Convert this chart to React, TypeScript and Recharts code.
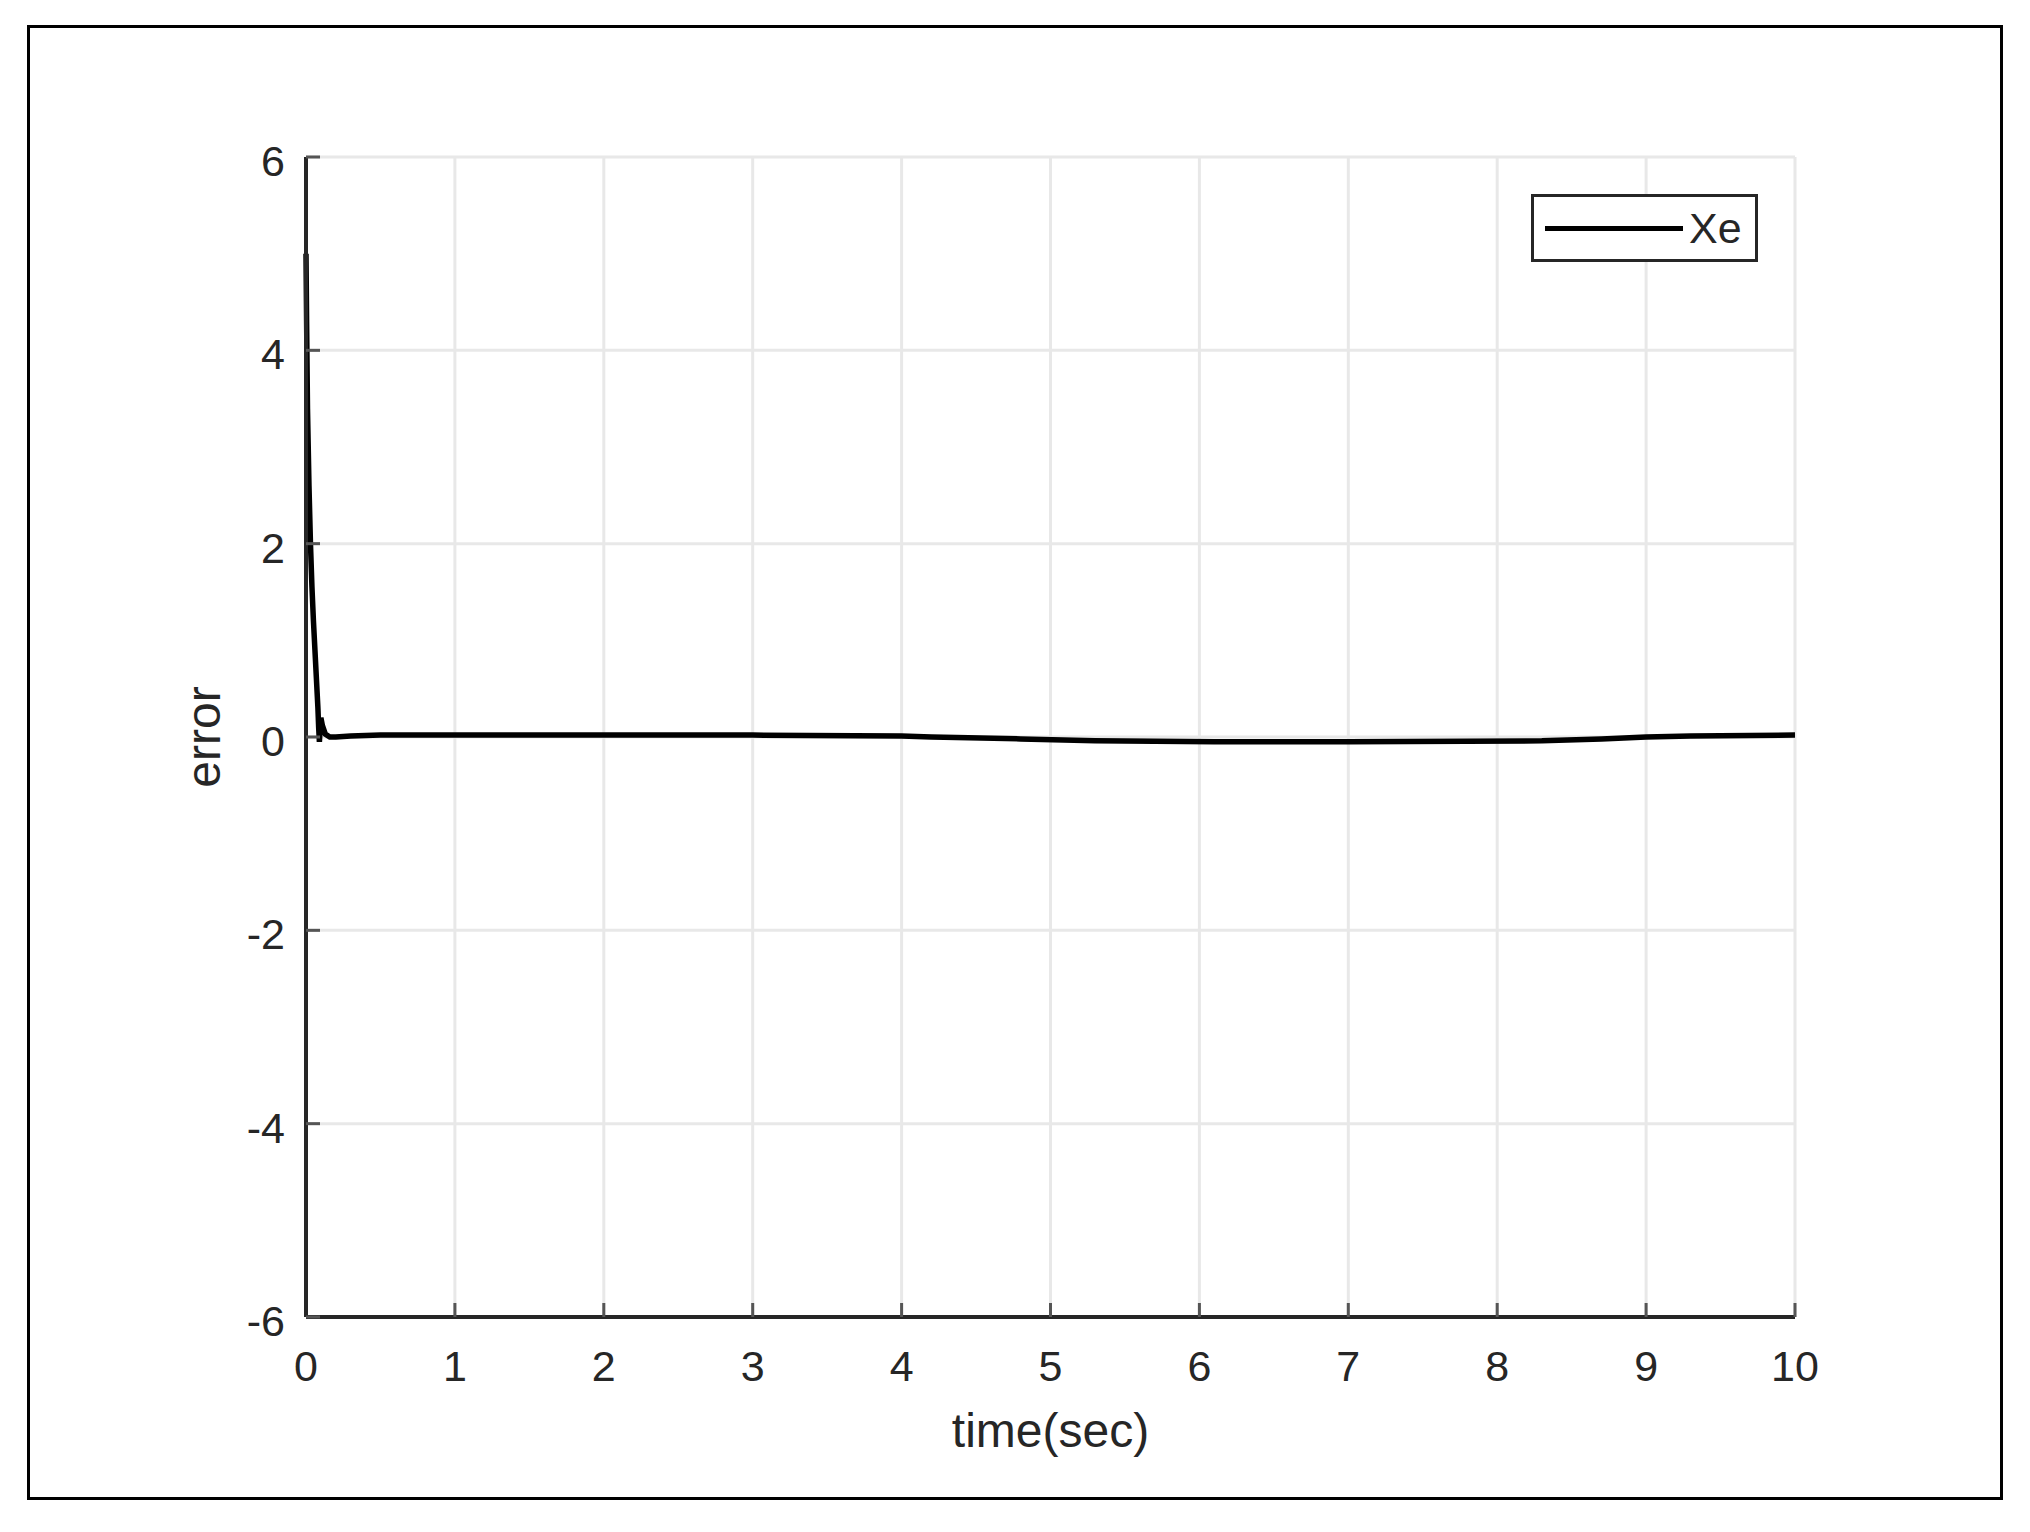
import React from "react";
import {
  LineChart,
  Line,
  XAxis,
  YAxis,
  CartesianGrid,
  Legend,
  Label,
} from "recharts";

const W = 2030;
const H = 1532;
const AXIS = "#262626";
const TICK = "#555555";
const GRID = "#e8e8e8";
const FONT = "'Liberation Sans', Arial, sans-serif";

// time (sec) and the Xe error
const time = [
  0, 0.004, 0.01, 0.02, 0.03, 0.04, 0.05, 0.06, 0.07, 0.08, 0.085, 0.09, 0.1,
  0.11, 0.13, 0.16, 0.2, 0.3, 0.5, 1, 2, 3, 4, 4.2, 4.8, 5.3, 6.1, 7, 8.3, 8.7,
  9, 9.3, 10,
];
const xe = [
  5, 4.3, 3.4, 2.6, 2.0, 1.55, 1.2, 0.9, 0.6, 0.3, 0.1, -0.05, 0.2, 0.12, 0.03,
  0.0, 0.0, 0.01, 0.02, 0.02, 0.02, 0.02, 0.01, 0.0, -0.02, -0.04, -0.05,
  -0.05, -0.04, -0.02, 0.0, 0.01, 0.02,
];

const xTicks = [0, 1, 2, 3, 4, 5, 6, 7, 8, 9, 10];
const yTicks = [-6, -4, -2, 0, 2, 4, 6];

const data = time.map((t, i) => ({ t, xe: xe[i] }));

const tickStyle = { fill: "#262626", fontSize: 43, fontFamily: FONT };

function YTick(props: any) {
  const { x, y, payload } = props;
  return (
    <text
      x={x}
      y={y + 4}
      textAnchor="end"
      dominantBaseline="central"
      fill="#262626"
      fontSize={43}
      fontFamily={FONT}
    >
      {payload.value}
    </text>
  );
}

function ErrorLabel(props: any) {
  const vb = props.viewBox || {};
  const cx = vb.x + 17;
  const cy = vb.y + vb.height / 2;
  return (
    <text
      x={cx}
      y={cy}
      transform={`rotate(-90, ${cx}, ${cy})`}
      textAnchor="middle"
      dominantBaseline="central"
      fill="#262626"
      fontSize={48}
      fontFamily={FONT}
    >
      error
    </text>
  );
}

function LegendBox() {
  return (
    <div
      style={{
        boxSizing: "border-box",
        width: 227,
        height: 68,
        border: `3px solid ${AXIS}`,
        background: "#fff",
        display: "flex",
        alignItems: "center",
        paddingLeft: 11,
      }}
    >
      <div style={{ width: 138, height: 5, background: "#000" }} />
      <span
        style={{
          marginLeft: 6,
          fontSize: 43,
          fontFamily: FONT,
          color: "#262626",
          lineHeight: 1,
        }}
      >
        Xe
      </span>
    </div>
  );
}

export default function App() {
  return (
    <div
      style={{
        position: "absolute",
        left: 0,
        top: 0,
        width: W,
        height: H,
        background: "#fff",
      }}
    >
      <div
        style={{
          position: "absolute",
          left: 27,
          top: 25,
          width: 1976,
          height: 1475,
          boxSizing: "border-box",
          border: "3px solid #000",
        }}
      />
      <LineChart
        width={W}
        height={H}
        data={data}
        margin={{ top: 157, right: 235, left: 186, bottom: 119 }}
        style={{ position: "absolute", left: 0, top: 0 }}
      >
        <CartesianGrid stroke={GRID} strokeWidth={3} />
        <XAxis
          dataKey="t"
          type="number"
          domain={[0, 10]}
          ticks={xTicks}
          interval={0}
          height={96}
          tick={tickStyle}
          tickSize={-14}
          tickMargin={47}
          tickLine={{ stroke: TICK, strokeWidth: 3 }}
          axisLine={{ stroke: AXIS, strokeWidth: 4 }}
        >
          <Label
            value="time(sec)"
            position="bottom"
            offset={0}
            fill="#262626"
            fontSize={48}
            fontFamily={FONT}
          />
        </XAxis>
        <XAxis
          xAxisId="top"
          orientation="top"
          dataKey="t"
          type="number"
          domain={[0, 10]}
          ticks={xTicks}
          interval={0}
          height={0}
          tickFormatter={() => ""}
          tickSize={-14}
          tickLine={{ stroke: TICK, strokeWidth: 3 }}
          axisLine={{ stroke: AXIS, strokeWidth: 4 }}
        />
        <YAxis
          type="number"
          domain={[-6, 6]}
          ticks={yTicks}
          interval={0}
          width={120}
          tick={<YTick />}
          tickSize={-14}
          tickMargin={35}
          tickLine={{ stroke: TICK, strokeWidth: 3 }}
          axisLine={{ stroke: AXIS, strokeWidth: 4 }}
        >
          <Label content={<ErrorLabel />} />
        </YAxis>
        <YAxis
          yAxisId="right"
          orientation="right"
          type="number"
          domain={[-6, 6]}
          ticks={yTicks}
          interval={0}
          width={0}
          tickFormatter={() => ""}
          tickSize={-14}
          tickLine={{ stroke: TICK, strokeWidth: 3 }}
          axisLine={{ stroke: AXIS, strokeWidth: 4 }}
        />
        <Legend
          layout="horizontal"
          align="center"
          verticalAlign="middle"
          wrapperStyle={{ left: 1531, top: 194, width: 227, height: 68 }}
          content={() => <LegendBox />}
        />
        <Line
          type="linear"
          dataKey="xe"
          name="Xe"
          stroke="#000"
          strokeWidth={5.5}
          dot={false}
          isAnimationActive={false}
        />
      </LineChart>
    </div>
  );
}
